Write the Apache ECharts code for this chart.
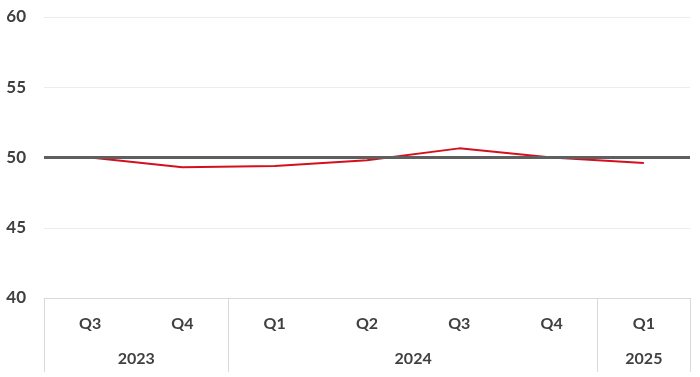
<!DOCTYPE html>
<html>
<head>
<meta charset="utf-8">
<script src="https://cdn.jsdelivr.net/npm/echarts@6/dist/echarts.min.js"></script>
<style>
  html, body { margin: 0; padding: 0; background: #fff; }
  #chart { width: 700px; height: 377px; }
</style>
</head>
<body>
<div id="chart"></div>
<script>
const quarters = ["Q3", "Q4", "Q1", "Q2", "Q3", "Q4", "Q1"];
const valores = [50.0, 49.3, 49.4, 49.8, 50.65, 50.0, 49.6];
const anos = ["2023", "2024", "2025"];
const quartersPorAno = [2, 4, 1];
const linhaRef = 50;

// year labels sit on a half-quarter grid (2 slots per quarter, plus one)
const slotsAno = new Array(quarters.length * 2 + 1).fill("");
const inicioAno = [];
let inicio = 0;
anos.forEach((ano, i) => {
    slotsAno[inicio * 2 + quartersPorAno[i]] = ano;
    inicioAno.push(inicio);
    inicio += quartersPorAno[i];
});

const chartDom = document.getElementById("chart");
const myChart = echarts.init(chartDom);

const fonte = "Lato, 'Open Sans', sans-serif";

const option = {
    animation: false,
    grid: { left: 44, right: 10, top: 17, bottom: 79 },
    xAxis: [
        {
            type: "category",
            data: quarters,
            axisLine: { lineStyle: { color: "#d9d9d9", width: 1 } },
            axisTick: {
                show: true,
                length: 74,
                lineStyle: { color: "#d9d9d9" },
                interval: (index) => inicioAno.includes(index)
            },
            axisLabel: {
                color: "#404040",
                fontSize: 16,
                fontWeight: "bold",
                fontFamily: fonte,
                margin: 18,
                interval: 0
            }
        },
        {
            type: "category",
            data: slotsAno,
            boundaryGap: false,
            position: "bottom",
            offset: 36,
            axisLine: { show: false },
            axisTick: { show: false },
            axisLabel: {
                color: "#404040",
                fontSize: 16,
                fontWeight: "bold",
                fontFamily: fonte,
                margin: 17,
                interval: 0
            }
        }
    ],
    yAxis: {
        type: "value",
        min: 40,
        max: 60,
        interval: 5,
        axisLine: { show: false },
        axisTick: { show: false },
        splitLine: { lineStyle: { color: "#ececec", width: 1 } },
        axisLabel: {
            color: "#404040",
            fontSize: 17,
            fontWeight: "bold",
            fontFamily: fonte,
            margin: 18
        }
    },
    series: [
        {
            type: "line",
            data: valores,
            symbol: "none",
            lineStyle: { color: "#d4101e", width: 2 }
        },
        {
            type: "line",
            data: [],
            markLine: {
                silent: true,
                symbol: "none",
                label: { show: false },
                lineStyle: { color: "#5f5f5f", width: 3, type: "solid" },
                data: [{ yAxis: linhaRef }]
            }
        }
    ]
};

myChart.setOption(option);
</script>
</body>
</html>
